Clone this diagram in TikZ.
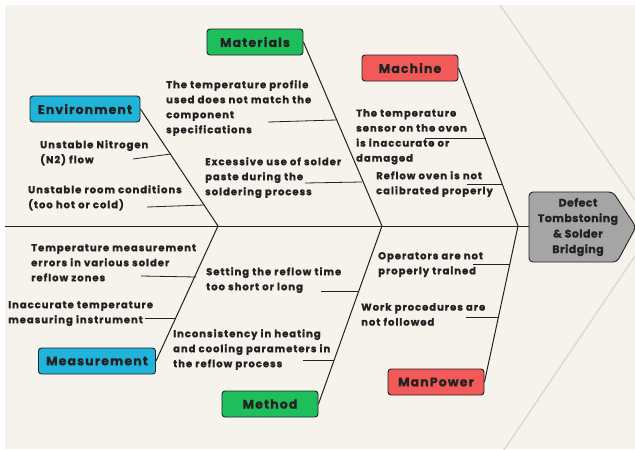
\documentclass[tikz,border=0pt]{standalone}
\usepackage{fontspec}
\setmainfont{Poppins}[BoldFont={Poppins Bold}]
\usetikzlibrary{calc}
\definecolor{paper}{HTML}{F6F2EC}
\definecolor{ink}{HTML}{222222}
\definecolor{envblue}{HTML}{20B4DA}
\definecolor{matgreen}{HTML}{1FBE5C}
\definecolor{machred}{HTML}{F25A5A}
\definecolor{headgray}{HTML}{A5A5A5}
\definecolor{faint}{HTML}{DEDAD3}
\newfontfamily\boxfont{Poppins}[BoldFont={Poppins Bold},LetterSpace=9,
                BoldFeatures={FakeBold=0.8}]
\newfontfamily\headfont{Poppins}[BoldFont={Poppins Bold},LetterSpace=4,
                BoldFeatures={FakeBold=0.8}]
\newfontfamily\causefont{Poppins}[BoldFont={Poppins Bold},LetterSpace=10,
                BoldFeatures={FakeBold=1.2}]
\tikzstyle{cat}=[draw=ink,line width=0.9pt,rounded corners=3pt,minimum
                height=26pt,minimum width=96pt,inner sep=0,text=ink,
                font=\boxfont\fontsize{12.5}{14}\selectfont\bfseries]
\tikzstyle{cause}=[anchor=north west,align=left,inner sep=0,text=ink,
                font=\causefont\fontsize{10}{15}\selectfont\bfseries]
\tikzstyle{bone}=[draw=ink,line width=1pt]
\tikzstyle{twig}=[draw=ink,line width=0.8pt]

\begin{document}
\begin{tikzpicture}[x=1pt,y=-1pt]
\useasboundingbox (0,0) rectangle (635,450);
\fill[white] (0,0) rectangle (635,450);
\fill[paper] (5,5) rectangle (635,449);
\draw[faint,line width=1.5pt] (500,5) -- (635,200);
\draw[faint,line width=1.5pt] (635,256) -- (504,450);

% head of the fish
\coordinate (neck) at (529,226);
\filldraw[fill=headgray,draw=ink,line width=0.9pt,rounded corners=4pt]
  (529,192) -- (613,192) -- (636,227) -- (617,262) -- (529,262) -- cycle;
\node[align=center,text=ink,font=\headfont\fontsize{11}{15.5}\selectfont\bfseries]
  (head) at (578,227) {Defect\\Tombstoning\\\& Solder\\Bridging};

% spine and the points where the bones meet it
\coordinate (tail) at (5,226);
\coordinate (j1) at (218,226);
\coordinate (j2) at (382,226);
\coordinate (j3) at (518,226);
\draw[bone] (tail) -- (neck);

% categories
\node[cat,fill=envblue,minimum width=110pt] (env) at (85,109) {Environment};
\node[cat,fill=matgreen] (mat) at (255,42) {Materials};
\node[cat,fill=machred] (mach) at (410,68) {Machine};
\node[cat,fill=envblue,minimum width=117pt] (meas) at (97,361) {Measurement};
\node[cat,fill=matgreen] (meth) at (270,404) {Method};
\node[cat,fill=machred] (man) at (436,382) {ManPower};

\draw[bone] (env.east) -- (j1);
\draw[bone] (mat.east) -- (j2);
\draw[bone] (mach.east) -- (j3);
\draw[bone] (meas.east) -- (j1);
\draw[bone] (meth.east) -- (j2);
\draw[bone] (man.east) -- (j3);

% causes, Environment
\node[cause] (e1) at (40,140) {Unstable Nitrogen\\(N2) flow};
\node[cause] (e2) at (28,185) {Unstable room conditions\\(too hot or cold)};
\coordinate (e1a) at (133,159); \coordinate (e1b) at (171,154);
\coordinate (e2a) at (147,207); \coordinate (e2b) at (204,205);
\draw[twig] (e1a) -- (e1b);
\draw[twig] (e2a) -- (e2b);

% causes, Materials
\node[cause] (m1) at (166,80) {The temperature profile\\used does not match the\\component\\specifications};
\node[cause] (m2) at (205,157) {Excessive use of solder\\paste during the\\soldering process};
\coordinate (m1a) at (268,122); \coordinate (m1b) at (336,120);
\coordinate (m2a) at (305,183); \coordinate (m2b) at (362,182);
\draw[twig] (m1a) -- (m1b);
\draw[twig] (m2a) -- (m2b);

% causes, Machine
\node[cause] (k1) at (356,109) {The temperature\\sensor on the oven\\is inaccurate or\\damaged};
\node[cause] (k2) at (376,171) {Reflow oven is not\\calibrated properly};
\coordinate (k1a) at (425,138); \coordinate (k1b) at (486,138);
\coordinate (k2a) at (467,184); \coordinate (k2b) at (502,184);
\draw[twig] (k1a) -- (k1b);
\draw[twig] (k2a) -- (k2b);

% causes, Measurement
\node[cause] (s1) at (31,244) {Temperature measurement\\errors in various solder\\reflow zones};
\node[cause] (s2) at (8,301) {Inaccurate temperature\\measuring instrument};
\coordinate (s1a) at (141,276); \coordinate (s1b) at (196,277);
\coordinate (s2a) at (145,318); \coordinate (s2b) at (176,318);
\draw[twig] (s1a) -- (s1b);
\draw[twig] (s2a) -- (s2b);

% causes, Method
\node[cause] (t1) at (206,267) {Setting the reflow time\\too short or long};
\node[cause] (t2) at (173,329) {Inconsistency in heating\\and cooling parameters in\\the reflow process};
\coordinate (t1a) at (321,291); \coordinate (t1b) at (359,291);
\coordinate (t2a) at (303,360); \coordinate (t2b) at (334,360);
\draw[twig] (t1a) -- (t1b);
\draw[twig] (t2a) -- (t2b);

% causes, ManPower
\node[cause] (p1) at (378,252) {Operators are not\\properly trained};
\node[cause] (p2) at (361,303) {Work procedures are\\not followed};
\coordinate (p1a) at (473,264); \coordinate (p1b) at (510,264);
\coordinate (p2a) at (466,317); \coordinate (p2b) at (499,317);
\draw[twig] (p1a) -- (p1b);
\draw[twig] (p2a) -- (p2b);
\end{tikzpicture}
\end{document}
